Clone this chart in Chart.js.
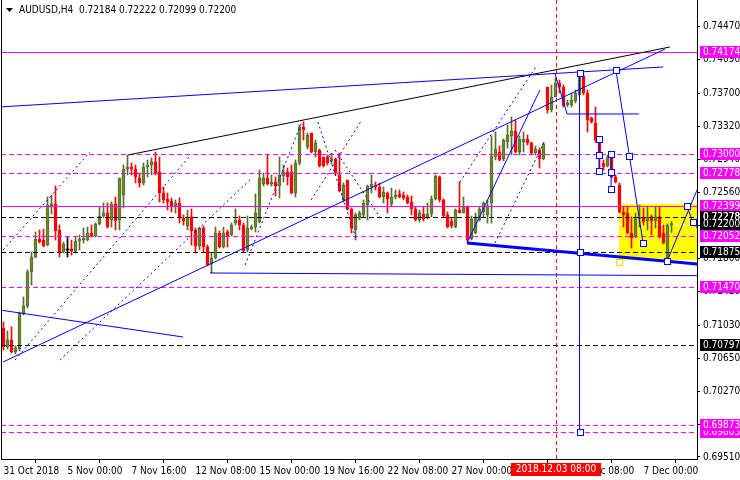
<!DOCTYPE html>
<html><head><meta charset="utf-8">
<script src="https://cdn.jsdelivr.net/npm/chart.js@4.4.1/dist/chart.umd.min.js"></script>
<style>html,body{margin:0;padding:0;background:#fff;overflow:hidden}#wrap{position:relative;width:740px;height:480px}</style>
</head><body><div id="wrap"><canvas id="c" width="740" height="480"></canvas></div>
<script>
const titleText = 'AUDUSD,H4  0.72184 0.72222 0.72099 0.72200';
const opens = [
.70997,.70778,.70859,.70720,.70755,.71170,.71251,.71643,.71815,.72023,
.72011,.71954,.72404,.72427,.72127,.71873,.71896,.71908,.71885,.72000,
.72011,.72011,.72092,.72058,.72196,.72288,.72323,.72242,.72427,.72242,
.72530,.72830,.72853,.72830,.72726,.72669,.72853,.72876,.72911,.72795,
.72553,.72484,.72461,.72404,.72438,.72265,.72173,.72277,.72127,.71942,
.72150,.71931,.71735,.71804,.72092,.71931,.72104,.72069,.72207,.72242,
.72184,.71896,.72138,.72161,.72219,.72657,.72726,.72657,.72680,.72634,
.72749,.72795,.72795,.72553,.72899,.73314,.73084,.73245,.73026,.73049,
.72968,.72968,.72922,.72945,.72761,.72473,.72703,.72369,.72127,.72265,
.72300,.72415,.72622,.72645,.72622,.72507,.72553,.72427,.72507,.72542,
.72530,.72507,.72450,.72369,.72242,.72311,.72265,.72311,.72484,.72738,
.72473,.72300,.72230,.72161,.72357,.72323,.72392,.72023,.72092,.72242,
.72334,.72300,.72438,.72968,.73026,.72945,.73141,.73210,.73268,.73026,
.73141,.73176,.73130,.73014,.73049,.72945,.73775,.73510,.73660,.73821,
.73775,.73568,.73568,.73614,.73683,.73902,.73706,.73418,.73360,.73164,
.72899,.72865,.72991,.72738,.72645,.72334,.72323,.72092,.72046,.72254,
.72265,.72230,.72277,.72230,.72277,.72092,.71804,.72184];
const highs = [
.71066,.70963,.71009,.70791,.71182,.71355,.71666,.71873,.72104,.72127,
.72138,.72507,.72530,.72634,.72184,.71988,.72046,.72011,.72046,.72069,
.72150,.72161,.72184,.72207,.72392,.72438,.72438,.72450,.72507,.72726,
.72876,.72991,.72899,.72876,.72784,.72899,.72934,.72957,.73026,.72968,
.72622,.72553,.72496,.72473,.72496,.72300,.72357,.72369,.72150,.72161,
.72173,.71954,.71862,.72161,.72115,.72161,.72127,.72207,.72369,.72288,
.72207,.72288,.72184,.72542,.72818,.72784,.72991,.72761,.72738,.72968,
.72876,.72841,.72876,.72934,.73337,.73372,.73245,.73245,.73164,.73060,
.72968,.72991,.73014,.72957,.73014,.72669,.72703,.72380,.72323,.72346,
.72473,.72645,.72761,.72680,.72669,.72622,.72565,.72611,.72588,.72588,
.72565,.72530,.72519,.72392,.72357,.72392,.72438,.72519,.72761,.72749,
.72484,.72334,.72265,.72369,.72680,.72507,.72404,.72288,.72323,.72392,
.72450,.72473,.73210,.73256,.73095,.73176,.73337,.73429,.73395,.73210,
.73256,.73222,.73141,.73095,.73072,.73130,.73775,.73798,.73879,.73856,
.73798,.73625,.73706,.73740,.73937,.73914,.73740,.73429,.73545,.73187,
.72934,.72991,.73014,.72761,.72669,.72392,.72392,.72277,.72323,.72415,
.72380,.72392,.72300,.72392,.72392,.72184,.72196,.72222];
const lows = [
.70744,.70755,.70709,.70697,.70732,.71147,.71228,.71493,.71804,.71977,
.71931,.71942,.72311,.72011,.71815,.71862,.71815,.71839,.71862,.71896,
.71977,.72000,.72046,.72046,.72184,.72265,.72150,.72161,.72127,.72127,
.72380,.72761,.72761,.72669,.72622,.72645,.72738,.72761,.72761,.72450,
.72438,.72357,.72334,.72323,.72207,.72184,.72127,.71954,.71862,.71896,
.71862,.71712,.71631,.71792,.71919,.71919,.71931,.72058,.72184,.72127,
.71873,.71873,.72127,.72104,.72207,.72634,.72645,.72634,.72519,.72496,
.72680,.72645,.72542,.72507,.72876,.73164,.73060,.73014,.72968,.72853,
.72853,.72876,.72888,.72761,.72565,.72450,.72357,.72092,.72011,.72242,
.72277,.72242,.72553,.72588,.72496,.72438,.72323,.72392,.72484,.72496,
.72473,.72427,.72300,.72230,.72219,.72230,.72254,.72277,.72473,.72450,
.72277,.72150,.72150,.72150,.72323,.72323,.71977,.72011,.72081,.72230,
.72277,.72207,.72207,.72934,.72922,.72922,.73072,.72991,.73014,.72991,
.73026,.73107,.72991,.72991,.72841,.72934,.73475,.73487,.73660,.73706,
.73545,.73545,.73545,.73591,.73671,.73683,.73256,.73360,.73141,.72818,
.72818,.72853,.72726,.72669,.72323,.72161,.72081,.71919,.72034,.72161,
.72184,.72127,.72069,.72150,.72034,.71965,.71781,.72099];
const closes = [
.70778,.70859,.70720,.70767,.71170,.71251,.71643,.71815,.72023,.71988,
.71942,.72415,.72427,.72115,.71873,.71965,.71896,.71885,.72000,.72023,
.72034,.72092,.72058,.72196,.72288,.72323,.72161,.72427,.72230,.72726,
.72830,.72853,.72830,.72738,.72669,.72853,.72876,.72911,.72784,.72553,
.72473,.72450,.72404,.72438,.72265,.72230,.72277,.72115,.71942,.72150,
.71931,.71723,.71804,.72092,.71931,.72092,.72046,.72184,.72242,.72184,
.71885,.72150,.72161,.72323,.72726,.72726,.72657,.72680,.72634,.72761,
.72795,.72738,.72553,.72899,.73314,.73279,.73222,.73026,.73130,.72865,
.72865,.72899,.72957,.72784,.72576,.72645,.72369,.72150,.72300,.72323,
.72438,.72634,.72657,.72622,.72507,.72565,.72484,.72507,.72530,.72507,
.72496,.72438,.72369,.72242,.72323,.72254,.72311,.72484,.72749,.72473,
.72288,.72161,.72173,.72357,.72323,.72392,.72011,.72254,.72277,.72369,
.72438,.72404,.72980,.73060,.72934,.73164,.73222,.73268,.73026,.73176,
.73176,.73130,.73014,.73060,.72945,.73118,.73510,.73660,.73821,.73775,
.73556,.73591,.73625,.73706,.73925,.73706,.73395,.73372,.73164,.72968,
.72853,.72957,.72738,.72680,.72334,.72300,.72092,.72034,.72254,.72277,
.72219,.72277,.72230,.72277,.72046,.71977,.72184,.72200];

const xTickIndex = [0,16,32,48,64,80,96,112,128,144,160];
const xTickLabels = ['31 Oct 2018','5 Nov 00:00','7 Nov 16:00','12 Nov 08:00','15 Nov 00:00','19 Nov 16:00','22 Nov 08:00','27 Nov 00:00','29 Nov 16:00','4 Dec 08:00','7 Dec 00:00'];
const yTickValues = [0.74470,0.74090,0.73700,0.73320,0.72940,0.72560,0.72180,0.71800,0.71420,0.71030,0.70650,0.70270,0.69890,0.69510];

const levelPrices = [0.74174,0.73000,0.72778,0.72399,0.72278,0.72052,0.71875,0.71470,0.70797,0.69803,0.69873];
const levelKinds  = ['magSolid','magDash','magDash','magSolid','blkDash','magDash','blkDash','magDash','blkDash','magDash','magDash'];
const bidPrice = 0.72200;
const markedBarIndex = 138;
const markedBarLabel = '2018.12.03 08:00';

const linePts = [
  [[31.1,0.72991],[166.6,0.74236]],
  [[-0.9,0.73545],[164.9,0.74006]],
  [[-0.1,0.70605],[165.4,0.74213]],
  [[-0.9,0.71204],[44.9,0.70893]],
  [[51.6,0.71631],[173.4,0.71600]],
  [[115.9,0.71977],[173.4,0.71735]],
  [[115.9,0.71977],[134.1,0.73740]],
  [[137.9,0.73925],[140.9,0.73464],[158.9,0.73464]],
  [[153.1,0.73971],[159.9,0.71977]],
  [[165.9,0.71769],[173.4,0.72588]],
  [[170.8,0.72404],[172.4,0.72219],[173.4,0.72150]],
  [[144,0.73937],[144,0.69798]],
  [[148.9,0.73176],[148.9,0.72807]],
  [[151.9,0.73003],[151.9,0.72599]],
  [[-0.1,0.71896],[21.6,0.73026]],
  [[2.9,0.70628],[46.6,0.72980]],
  [[14.1,0.70628],[61.6,0.72703]],
  [[60.4,0.71723],[74.6,0.73372]],
  [[78.6,0.73372],[88.1,0.72034]],
  [[76.9,0.72473],[89.6,0.73395]],
  [[82.9,0.73049],[94.4,0.72254]],
  [[114.1,0.72680],[133.4,0.74029]],
  [[122.9,0.71977],[135.4,0.73164]]
];
const lineKinds = ['black','blue','blue','blue','blue','thick','blue','blue','blue','blue','blue','blue','blue','blue',
  'dot','dot','dot','dot','dot','dot','dot','dot','dot'];
const handlePts = [[144,0.73934],[144,0.71870],[144,0.69798],[153.05,0.73968],[156.45,0.72977],[159.95,0.71981],
  [165.95,0.71766],[170.8,0.72403],[172.45,0.72215],[148.95,0.73176],[148.95,0.72988],[148.95,0.72807],
  [151.95,0.72999],[151.95,0.72795],[151.95,0.72599]];
const boxHandle = [153.95,0.71758];
const rectCorners = [[153.9,0.72421],[176,0.71781]];

const FONT = '"DejaVu Sans Condensed","Liberation Sans",sans-serif';
const FSIZE = 10;
const idx = opens.map((_,i)=>i);
const dir = idx.map(i => closes[i]>opens[i]?1:(closes[i]<opens[i]?-1:0));
const BULL_FILL='#6B8E23', BULL_EDGE='#556B2F', BEAR='#FF0000', DOJI='#000000';
const MAG='#FF00FF';

function styleFor(k){
  if(k==='black') return {c:'#000',w:1,d:[]};
  if(k==='thick') return {c:'#0000FF',w:3,d:[]};
  if(k==='dot') return {c:'#0000FF',w:1,d:[2,3]};
  return {c:'#0000FF',w:1,d:[]};
}

const objects = {
  id:'mtObjects',
  beforeDatasetsDraw(chart){
    const {ctx, chartArea:a, scales:{x,y}} = chart;
    ctx.save();
    ctx.beginPath(); ctx.rect(a.left,a.top,a.right-a.left,a.bottom-a.top); ctx.clip();
    const x0 = Math.round(x.getPixelForValue(rectCorners[0][0]));
    const y0 = Math.round(y.getPixelForValue(rectCorners[0][1]));
    const y1 = Math.round(y.getPixelForValue(rectCorners[1][1]));
    ctx.fillStyle='#FFFF00';
    ctx.fillRect(x0,y0,a.right-x0,y1-y0);
    const by = Math.round(y.getPixelForValue(bidPrice))+0.5;
    ctx.strokeStyle='#FFFFFF'; ctx.lineWidth=1; ctx.setLineDash([4,3]);
    ctx.beginPath(); ctx.moveTo(x0,by); ctx.lineTo(a.right,by); ctx.stroke();
    ctx.restore();
  },
  afterDatasetsDraw(chart){
    const {ctx, chartArea:a, scales:{x,y}} = chart;
    ctx.save();
    ctx.beginPath(); ctx.rect(a.left,a.top,a.right-a.left,a.bottom-a.top); ctx.clip();
    levelPrices.forEach((p,i)=>{
      const k = levelKinds[i];
      const py = Math.round(y.getPixelForValue(p))+0.5;
      ctx.strokeStyle = k.startsWith('mag')?MAG:'#000';
      ctx.lineWidth=1;
      ctx.setLineDash(k.endsWith('Dash')?[5,3]:[]);
      ctx.beginPath(); ctx.moveTo(a.left,py); ctx.lineTo(a.right,py); ctx.stroke();
    });
    const vx = Math.round(x.getPixelForValue(markedBarIndex))+0.5;
    ctx.strokeStyle='#FF0000'; ctx.setLineDash([4,3]); ctx.lineWidth=1;
    ctx.beginPath(); ctx.moveTo(vx,a.top); ctx.lineTo(vx,a.bottom); ctx.stroke();
    linePts.forEach((pts,i)=>{
      const s = styleFor(lineKinds[i]);
      ctx.strokeStyle=s.c; ctx.lineWidth=s.w; ctx.setLineDash(s.d);
      ctx.beginPath();
      pts.forEach((pt,j)=>{
        const px = x.getPixelForValue(pt[0]), py = y.getPixelForValue(pt[1]);
        if(j===0) ctx.moveTo(px,py); else ctx.lineTo(px,py);
      });
      ctx.stroke();
    });
    ctx.setLineDash([]);
    const drawHandle=(pt,col)=>{
      const px=Math.round(x.getPixelForValue(pt[0])), py=Math.round(y.getPixelForValue(pt[1]));
      ctx.fillStyle='#FFFFFF'; ctx.fillRect(px-3,py-3,6,6);
      ctx.strokeStyle=col; ctx.lineWidth=1; ctx.strokeRect(px-3+0.5,py-3+0.5,6,6);
    };
    handlePts.forEach(p=>drawHandle(p,'#0000FF'));
    drawHandle(boxHandle,'#E6E600');
    ctx.restore();
    ctx.save(); ctx.strokeStyle='#000'; ctx.lineWidth=1;
    ctx.beginPath(); ctx.moveTo(a.left+0.5,a.top); ctx.lineTo(a.left+0.5,a.bottom); ctx.stroke();
    ctx.restore();
  },
  afterDraw(chart){
    const {ctx, chartArea:a, scales:{x,y}} = chart;
    ctx.save();
    ctx.font = FSIZE+'px '+FONT;
    ctx.textBaseline='middle'; ctx.textAlign='left';
    const drawBox=(p,bg)=>{
      const py = Math.round(y.getPixelForValue(p));
      ctx.fillStyle=bg; ctx.fillRect(a.right+3,py-6,740-a.right-3,12);
    };
    const drawTxt=(p)=>{
      const py = Math.round(y.getPixelForValue(p));
      ctx.fillStyle='#FFFFFF'; ctx.fillText(p.toFixed(5),a.right+6,py+0.5);
    };
    levelPrices.forEach((p,i)=>{ drawBox(p, levelKinds[i].startsWith('mag')?MAG:'#000'); drawTxt(p); });
    drawBox(bidPrice,'#000');
    drawTxt(levelPrices[4]); drawTxt(bidPrice);
    const vx = Math.round(x.getPixelForValue(markedBarIndex));
    const tw = ctx.measureText(markedBarLabel).width;
    ctx.fillStyle='#FF0000';
    ctx.fillRect(vx-tw/2-5, a.bottom+4, tw+10, 13);
    ctx.fillStyle='#FFFFFF'; ctx.textAlign='center';
    ctx.fillText(markedBarLabel, vx, a.bottom+10.5);
    ctx.textAlign='left'; ctx.fillStyle='#000';
    ctx.fillText(titleText, 19, 10.5);
    ctx.beginPath(); ctx.moveTo(6,8); ctx.lineTo(13,8); ctx.lineTo(9.5,12); ctx.closePath(); ctx.fill();
    ctx.restore();
  }
};

new Chart(document.getElementById('c'), {
  type:'bar',
  data:{
    datasets:[
      { label:'wick', data: idx.map(i=>({x:i,y:[lows[i],highs[i]]})), barThickness:1, grouped:false,
        backgroundColor: idx.map(i=>dir[i]>0?BULL_EDGE:(dir[i]<0?BEAR:DOJI)), borderWidth:0, order:2 },
      { label:'body', data: idx.map(i=>({x:i,y:[opens[i],closes[i]]})), barThickness:3, grouped:false, minBarLength:1,
        backgroundColor: idx.map(i=>dir[i]>0?BULL_FILL:(dir[i]<0?BEAR:DOJI)),
        borderColor: idx.map(i=>dir[i]>0?BULL_EDGE:(dir[i]<0?BEAR:DOJI)),
        borderWidth: idx.map(i=>dir[i]===0?0:1), borderSkipped:false, order:1 }
    ]
  },
  options:{
    responsive:false, devicePixelRatio:1, animation:false, events:[],
    layout:{padding:{left:1,right:0,top:0,bottom:0}},
    plugins:{legend:{display:false},tooltip:{enabled:false},title:{display:false}},
    scales:{
      x:{ type:'linear', position:'bottom', min:-0.625, max:173.375, offset:false,
        grid:{display:true, drawOnChartArea:false, drawTicks:true, tickLength:4, color:'#000'},
        border:{display:true,color:'#000',width:1},
        ticks:{autoSkip:false, maxRotation:0, minRotation:0, align:'start', padding:2, color:'#000',
          font:{family:FONT,size:FSIZE}, callback:(v,i)=>xTickLabels[i]},
        afterBuildTicks:s=>{ s.ticks = xTickIndex.map(v=>({value:v})); },
        afterFit:s=>{ s.height=21; s.paddingLeft=0; s.paddingRight=0; }
      },
      y:{ type:'linear', position:'right', min:0.694867, max:0.747778,
        grid:{display:true, drawOnChartArea:false, drawTicks:true, tickLength:3, color:'#000'},
        border:{display:true,color:'#000',width:1},
        ticks:{autoSkip:false, padding:3, color:'#000', font:{family:FONT,size:FSIZE}, callback:v=>Number(v).toFixed(5)},
        afterBuildTicks:s=>{ s.ticks = yTickValues.map(v=>({value:v})); },
        afterFit:s=>{ s.width=43; s.paddingTop=0; s.paddingBottom=0; }
      }
    }
  },
  plugins:[objects]
});
</script>
</body></html>
